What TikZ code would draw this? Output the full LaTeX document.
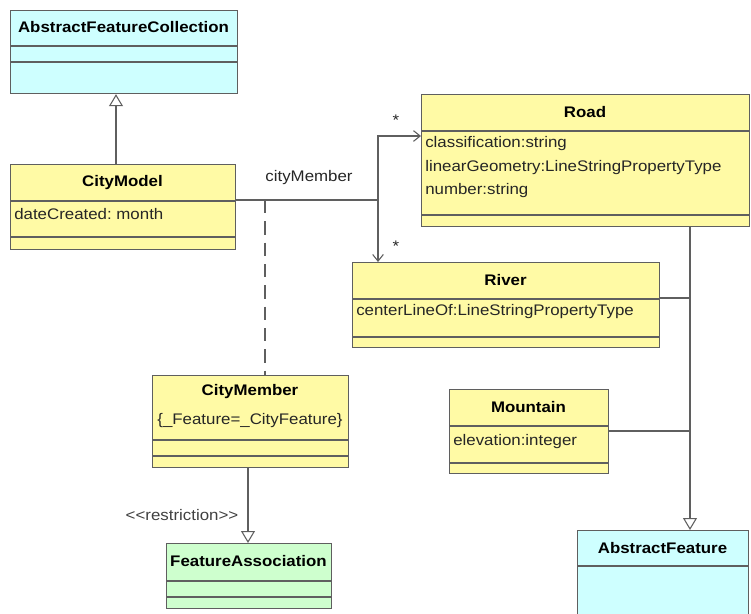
\documentclass[tikz,border=0pt]{standalone}
\usepackage{fontspec}
\setmainfont{Liberation Sans}[FakeStretch=1.1]
\usepackage{xcolor}
\usepackage{tikz}
\usetikzlibrary{arrows.meta}
\frenchspacing

\definecolor{classYellow}{RGB}{255,250,165}
\definecolor{classCyan}{RGB}{206,255,255}
\definecolor{classGreen}{RGB}{206,255,206}
\definecolor{umlLine}{RGB}{95,95,95}

\tikzset{
	classbox/.style={draw=umlLine, line width=0.9pt, inner sep=0pt, anchor=north west},
	sepline/.style={draw=umlLine, line width=0.9pt},
	classname/.style={font=\fontsize{11.5}{13}\selectfont\bfseries, inner sep=0.75pt},
	attr/.style={font=\fontsize{11.5}{13}\selectfont, anchor=west, inner sep=0.75pt, text=black!85},
	link/.style={draw=umlLine, line width=0.8pt},
	gen/.style={link, -{Triangle[open, length=9pt, width=10.5pt]}},
	nav/.style={link, -{Straight Barb[length=5pt, width=8pt]}},
}

\begin{document}
\begin{tikzpicture}[x=0.75pt,y=0.75pt,yscale=-1,xscale=1]
		\useasboundingbox (0,0) rectangle (751,614);
		\clip (0,0) rectangle (751,614);
		
		%Class: AbstractFeatureCollection
		\node [classbox, fill=classCyan, minimum width=170.25pt, minimum height=62.25pt] (afc) at (10,10) {};
		\draw [sepline] (afc.north west) ++(0,36) -- ++(227,0) ;
		\draw [sepline] (afc.north west) ++(0,52) -- ++(227,0) ;
		\node [classname] (afcName) at (123.5,27) {AbstractFeatureCollection};
		
		%Class: CityModel
		\node [classbox, fill=classYellow, minimum width=168.75pt, minimum height=63.75pt] (cm) at (10,164) {};
		\draw [sepline] (cm.north west) ++(0,37) -- ++(225,0) ;
		\draw [sepline] (cm.north west) ++(0,73) -- ++(225,0) ;
		\node [classname] (cmName) at (122.5,183) {CityModel};
		\node [attr] (cmDate) at (13,214) {dateCreated: month};
		
		%Class: Road
		\node [classbox, fill=classYellow, minimum width=246pt, minimum height=99pt] (road) at (421,94) {};
		\draw [sepline] (road.north west) ++(0,37) -- ++(328,0) ;
		\draw [sepline] (road.north west) ++(0,121) -- ++(328,0) ;
		\node [classname] (roadName) at (585,112) {Road};
		\node [attr] (roadClass) at (424,144) {classification:string};
		\node [attr] (roadGeom) at (424,168) {linearGeometry:LineStringPropertyType};
		\node [attr] (roadNum) at (424,191) {number:string};
		
		%Class: River
		\node [classbox, fill=classYellow, minimum width=230.25pt, minimum height=63.75pt] (river) at (352,262) {};
		\draw [sepline] (river.north west) ++(0,37) -- ++(307,0) ;
		\draw [sepline] (river.north west) ++(0,75) -- ++(307,0) ;
		\node [classname] (riverName) at (505.5,280) {River};
		\node [attr] (riverLine) at (355,312) {centerLineOf:LineStringPropertyType};
		
		%Class: Mountain
		\node [classbox, fill=classYellow, minimum width=119.25pt, minimum height=63pt] (mtn) at (449,389) {};
		\draw [sepline] (mtn.north west) ++(0,37) -- ++(159,0) ;
		\draw [sepline] (mtn.north west) ++(0,74) -- ++(159,0) ;
		\node [classname] (mtnName) at (528.5,407) {Mountain};
		\node [attr] (mtnElev) at (452,442) {elevation:integer};
		
		%Class: CityMember
		\node [classbox, fill=classYellow, minimum width=147pt, minimum height=69pt] (cmem) at (152,375) {};
		\draw [sepline] (cmem.north west) ++(0,65) -- ++(196,0) ;
		\draw [sepline] (cmem.north west) ++(0,81) -- ++(196,0) ;
		\node [classname] (cmemName) at (250,392) {CityMember};
		\node [attr, anchor=center] (cmemRule) at (250,421) {\{\_Feature=\_CityFeature\}};
		
		%Class: FeatureAssociation
		\node [classbox, fill=classGreen, minimum width=123.75pt, minimum height=48.75pt] (fa) at (166,543) {};
		\draw [sepline] (fa.north west) ++(0,38) -- ++(165,0) ;
		\draw [sepline] (fa.north west) ++(0,54) -- ++(165,0) ;
		\node [classname] (faName) at (248.5,561) {FeatureAssociation};
		
		%Class: AbstractFeature
		\node [classbox, fill=classCyan, minimum width=128.25pt, minimum height=67.5pt] (af) at (577,530) {};
		\draw [sepline] (af.north west) ++(0,36) -- ++(171,0) ;
		\node [classname] (afName) at (662.5,548) {AbstractFeature};
		
		%Generalization: CityModel -> AbstractFeatureCollection
		\coordinate (cmTop) at (116,164);
		\draw [gen] (cmTop) -- (cmTop |- afc.south) ;
		
		%Association: cityMember
		\coordinate (fork) at (378,200);
		\coordinate (roadIn) at (421,136);
		\draw [link] (cm.north east |- fork) -- (fork) ;
		\draw [nav] (fork) |- (roadIn) ;
		\draw [nav] (fork) -- (fork |- river.north) ;
		\node [attr, anchor=center] (assocName) at (309,178) {cityMember};
		\node [attr, anchor=center] (roadMult) at (396,120) {*};
		\node [attr, anchor=center] (riverMult) at (396,246) {*};
		
		%Association class link
		\coordinate (linkTop) at (265,200);
		\draw [link, dash pattern=on 10pt off 6pt] (linkTop) -- (linkTop |- cmem.north) ;
		
		%Restriction: CityMember -> FeatureAssociation
		\coordinate (cmemOut) at (248,467);
		\draw [gen] (cmemOut) -- (cmemOut |- fa.north) ;
		\node [attr, anchor=center, text=black!75] (restrict) at (182,515) {<{}<restriction>{}>};
		
		%Generalization: Road, River, Mountain -> AbstractFeature
		\coordinate (featBus) at (690,226);
		\coordinate (riverOut) at (659,298);
		\coordinate (mtnOut) at (608,431);
		\draw [gen] (featBus) -- (featBus |- af.north) ;
		\draw [link] (riverOut) -- (riverOut -| featBus) ;
		\draw [link] (mtnOut) -- (mtnOut -| featBus) ;
		
\end{tikzpicture}
\end{document}
